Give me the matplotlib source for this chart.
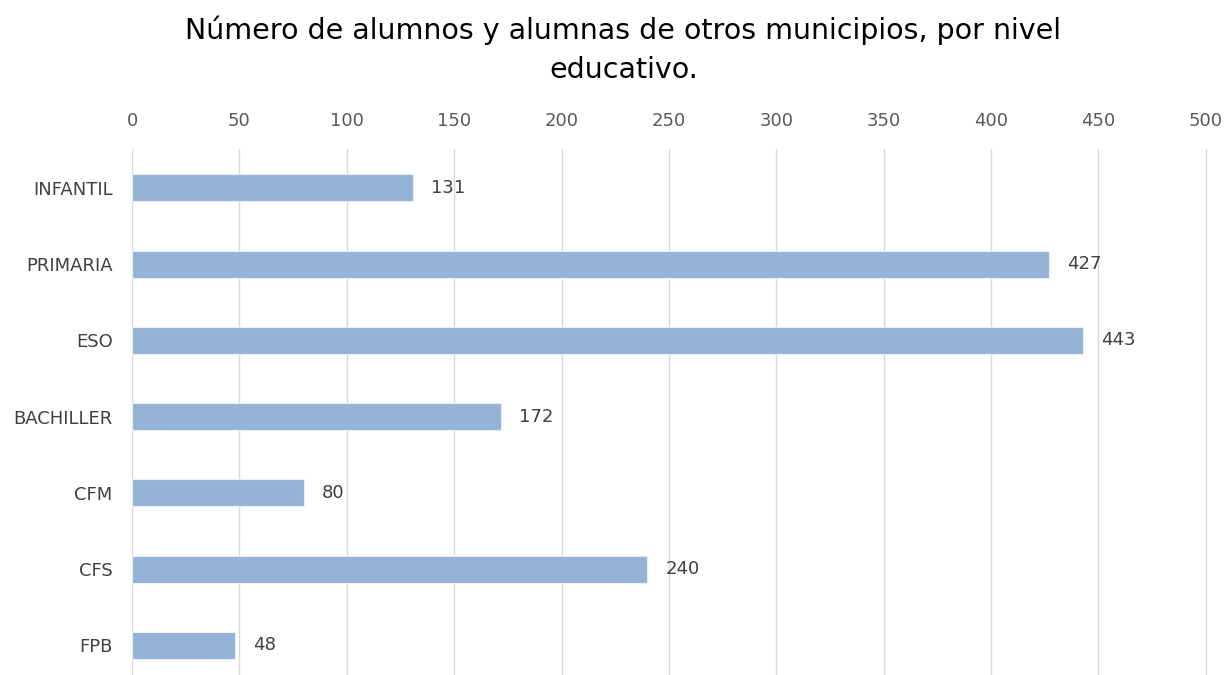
import matplotlib.pyplot as plt

# Datos
niveles = ['INFANTIL', 'PRIMARIA', 'ESO', 'BACHILLER', 'CFM', 'CFS', 'FPB']
alumnos = [131, 427, 443, 172, 80, 240, 48]
ticks_x = [0, 50, 100, 150, 200, 250, 300, 350, 400, 450, 500]

titulo = 'Número de alumnos y alumnas de otros municipios, por nivel\neducativo.'

plt.rcParams['font.family'] = ['DejaVu Sans']

fig = plt.figure(figsize=(12.27, 6.75), dpi=100)
ax = fig.add_axes([132 / 1227, 0.0, (1208 - 132) / 1227, 1 - 149 / 675])

y = list(range(len(niveles)))
ax.barh(y, alumnos, height=0.355, color='#95B3D7', edgecolor='#E8EEF6', linewidth=0.8, zorder=3)

for yi, v in zip(y, alumnos):
    ax.annotate(str(v), (v, yi), xytext=(13, 0), textcoords='offset points',
                ha='left', va='center', fontsize=13, color='#404040')

ax.set_xlim(0, 501)  # un poco de margen para que se vea la línea de 500
ax.set_ylim(6.39, -0.51)
ax.set_xticks(ticks_x)
ax.set_yticks(y)
ax.set_yticklabels(niveles)
ax.xaxis.tick_top()
ax.tick_params(axis='x', length=0, pad=14, labelsize=13, labelcolor='#595959')
ax.tick_params(axis='y', length=0, pad=14, labelsize=13, labelcolor='#404040')
ax.grid(axis='x', color='#D9D9D9', linewidth=1.0, zorder=0)
for s in ax.spines.values():
    s.set_visible(False)

fig.text(0.508, 0.926, titulo, ha='center', va='center', fontsize=20.5,
         color='#000000', linespacing=1.5)

fig.savefig('out.png', dpi=100)
